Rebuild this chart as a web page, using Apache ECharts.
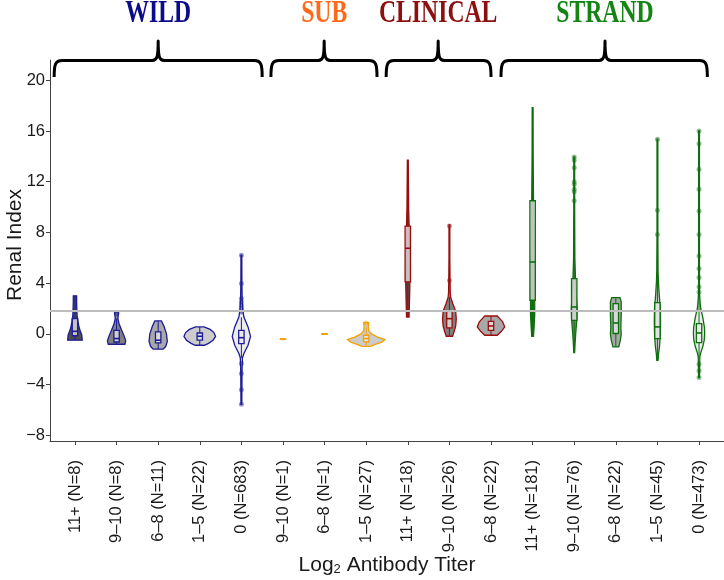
<!DOCTYPE html>
<html><head><meta charset="utf-8">
<script src="https://cdn.jsdelivr.net/npm/echarts@6/dist/echarts.min.js"></script>
<style>html,body{margin:0;padding:0;background:#fff}#c{width:724px;height:580px}</style>
</head><body><div id="c"></div>
<script>
// ---------- DATA ----------
const categories = ['11+ (N=8)','9–10 (N=8)','6–8 (N=11)','1–5 (N=22)','0 (N=683)',
  '9–10 (N=1)','6–8 (N=1)','1–5 (N=27)',
  '11+ (N=18)','9–10 (N=26)','6–8 (N=22)',
  '11+ (N=181)','9–10 (N=76)','6–8 (N=22)','1–5 (N=45)','0 (N=473)'];
const groupNames = ['WILD','SUB','CLINICAL','STRAND'];
const groupOf = [0,0,0,0,0,1,1,1,2,2,2,3,3,3,3,3];
// titer level: 0 = 11+, 1 = 9-10, 2 = 6-8, 3 = 1-5, 4 = 0
const titerLevel = [0,1,2,3,4,1,2,3,0,1,2,0,1,2,3,4];
const yTicks = [-8,-4,0,4,8,12,16,20];
const refLine = 1.85;

// box statistics per category
const boxLow  = [-0.5,-0.82,-1.21,-0.9,-1.9,-0.4,0.0,-0.98, 1.33,-0.19,-0.11,-0.19,-1.47,-1.03,-2.08,-1.9];
const boxQ1   = [-0.15,-0.64,-0.71,-0.5,-0.77,-0.4,0.0,-0.63, 4.1,0.47,0.28, 2.65,1.07,0.03,-0.37,-0.69];
const boxMed  = [0.2,-0.37,-0.5,-0.19,-0.3,-0.4,0.0,-0.37, 6.75,1.2,0.62, 5.67,2.12,0.86,0.55,0.07];
const boxQ3   = [1.2,0.28,0.15,0.07,0.28,-0.4,0.0,-0.11, 8.5,1.78,0.99, 10.5,4.36,2.39,2.47,0.81];
const boxHigh = [3.0,1.2,1.02,0.55,1.3,-0.4,0.0,0.5, 13.7,2.9,1.41, 17.85,9.3,2.86,6.0,3.0];

// violin density profiles: [value, relative width]
const violinWild11  = [[3.0,0.08],[2.5,0.08],[2.0,0.09],[1.5,0.1],[1.0,0.14],[0.5,0.2],[0.2,0.26],[-0.1,0.33],[-0.5,0.35]];
const violinWild9   = [[1.73,0.09],[1.6,0.1],[1.45,0.08],[1.2,0.065],[0.8,0.12],[0.3,0.24],[-0.2,0.37],[-0.55,0.44],[-0.82,0.4]];
const violinWild6   = [[1.02,0.16],[0.6,0.28],[0.0,0.4],[-0.6,0.44],[-1.0,0.36],[-1.21,0.24]];
const violinWild1   = [[0.55,0.2],[0.35,0.5],[0.1,0.68],[-0.2,0.76],[-0.5,0.64],[-0.75,0.42],[-0.9,0.22]];
const violinWild0   = [[6.2,0.02],[4,0.025],[2.6,0.04],[1.9,0.065],[1.33,0.12],[0.55,0.32],[-0.2,0.44],[-0.9,0.32],[-1.55,0.12],[-1.9,0.05],[-3,0.03],[-5.55,0.02]];
const violinSub9    = [];
const violinSub6    = [];
const violinSub1    = [[0.89,0.12],[0.6,0.1],[0.25,0.12],[0.0,0.25],[-0.25,0.55],[-0.45,0.9],[-0.65,0.75],[-0.85,0.4],[-0.98,0.2]];
const violinClin11  = [[13.7,0.02],[10,0.04],[8,0.07],[6,0.09],[4,0.1],[2.5,0.08],[1.33,0.06]];
const violinClin9   = [[8.6,0.02],[6,0.02],[4.2,0.03],[3.3,0.04],[2.9,0.06],[2.4,0.16],[1.8,0.3],[1.2,0.33],[0.6,0.3],[0.15,0.22],[-0.19,0.15]];
const violinClin6   = [[1.41,0.3],[1.2,0.42],[0.95,0.56],[0.55,0.66],[0.2,0.5],[-0.11,0.3]];
const violinStr11   = [[17.85,0.02],[14,0.025],[11,0.04],[8,0.06],[5,0.08],[3,0.1],[1.5,0.1],[0.5,0.07],[-0.19,0.04]];
const violinStr9    = [[13.95,0.02],[10,0.02],[6,0.03],[4.4,0.06],[3,0.1],[2,0.14],[1,0.12],[0,0.07],[-0.8,0.04],[-1.47,0.02]];
const violinStr6    = [[2.86,0.2],[2.5,0.26],[1.5,0.26],[0.5,0.24],[0,0.26],[-0.5,0.22],[-1.03,0.14]];
const violinStr1    = [[15.35,0.02],[8,0.02],[5,0.03],[4,0.05],[3,0.09],[2,0.14],[1,0.15],[0,0.14],[-1,0.1],[-1.6,0.05],[-2.08,0.03]];
const violinStr0    = [[16,0.02],[8,0.02],[3.3,0.02],[2.5,0.05],[2.0,0.08],[1.3,0.18],[0.5,0.26],[0,0.27],[-0.5,0.25],[-1.0,0.18],[-1.5,0.08],[-1.8,0.04],[-2.5,0.03],[-3.45,0.02]];
const violins = [violinWild11,violinWild9,violinWild6,violinWild1,violinWild0,violinSub9,violinSub6,violinSub1,
  violinClin11,violinClin9,violinClin6,violinStr11,violinStr9,violinStr6,violinStr1,violinStr0];

// outliers: [category index, value]
const outliers = [
  [1,1.6],
  [4,6.2],[4,3.97],[4,2.78],[4,2.52],[4,2.26],[4,2.0],[4,1.73],[4,-2.34],[4,-3.13],[4,-4.4],[4,-5.55],
  [7,0.85],
  [9,8.5],[9,4.2],
  [12,13.95],[12,13.7],[12,13.1],[12,12.0],[12,11.8],[12,11.4],[12,11.2],[12,10.5],
  [14,15.35],[14,9.75],[14,7.83],
  [15,16.0],[15,15.0],[15,12.98],[15,11.4],[15,9.7],[15,7.83],[15,6.14],[15,5.15],[15,4.44],[15,3.7],[15,3.3],[15,-2.4],[15,-2.9],[15,-3.45]
];

// ---------- STYLE ----------
const groupLine  = ['#1c1c96','#F5A000','#9a0d0d','#0d6e0d'];
const groupTitle = ['#0c0c8a','#FF6A1A','#8B1010','#148414'];
const shadeFill  = ['#4d4d4d','#808080','#a8a8a8','#cccccc','#ececec'];
// brace extents in axis units (annotation layout)
const braceL = [-0.5, 4.71, 7.48, 10.24];
const braceR = [4.5, 7.26, 10.0, 15.2];
const braceM = [2.0, 5.99, 8.73, 12.74];

const chart = echarts.init(document.getElementById('c'), null, {renderer:'canvas'});
const BOXW = 0.13;
const FONT = '"Liberation Sans", Arial, sans-serif';

function renderViolin(params, api) {
  const i = api.value(0);
  const g = groupOf[i];
  const col = groupLine[g];
  const prof = violins[i];
  const children = [];
  if (prof.length) {
    const right = prof.map(p => api.coord([i + p[1]/2, p[0]]));
    const left = prof.map(p => api.coord([i - p[1]/2, p[0]])).reverse();
    children.push({type:'polygon', shape:{points: right.concat(left)},
      style:{fill: shadeFill[titerLevel[i]], stroke: col, lineWidth: 1.3}});
  }
  const c = api.coord([i, boxHigh[i]]);
  const cq3 = api.coord([i, boxQ3[i]]);
  const cq1 = api.coord([i, boxQ1[i]]);
  const cl = api.coord([i, boxLow[i]]);
  children.push({type:'line', shape:{x1:c[0],y1:c[1],x2:cq3[0],y2:cq3[1]}, style:{stroke:col,lineWidth:1}});
  children.push({type:'line', shape:{x1:cq1[0],y1:cq1[1],x2:cl[0],y2:cl[1]}, style:{stroke:col,lineWidth:1}});
  const tl = api.coord([i - BOXW/2, boxQ3[i]]);
  const br = api.coord([i + BOXW/2, boxQ1[i]]);
  children.push({type:'rect', shape:{x:tl[0], y:tl[1], width:br[0]-tl[0], height:Math.max(br[1]-tl[1],0.5)},
    style:{fill:'rgba(235,235,235,0.75)', stroke:col, lineWidth:1.3}});
  const ml = api.coord([i - BOXW/2, boxMed[i]]);
  const mr = api.coord([i + BOXW/2, boxMed[i]]);
  children.push({type:'line', shape:{x1:ml[0],y1:ml[1],x2:mr[0],y2:mr[1]}, style:{stroke:col,lineWidth:1.6}});
  return {type:'group', children};
}

// braces above the plot, x from the axis scale, y relative to the grid top
function renderBrace(params, api) {
  const g = api.value(0);
  const top = params.coordSys.y;
  const x1 = api.coord([braceL[g], 0])[0];
  const x2 = api.coord([braceR[g], 0])[0];
  const xm = api.coord([braceM[g], 0])[0];
  const yLine = top + 0.5, yEnd = top + 17, yTop = top - 19;
  const d = `M${x1},${yEnd} C${x1},${yLine+4} ${x1+1},${yLine} ${x1+8},${yLine} L${xm-6},${yLine} C${xm-1},${yLine} ${xm},${yLine-4} ${xm},${yTop} C${xm},${yLine-4} ${xm+1},${yLine} ${xm+6},${yLine} L${x2-8},${yLine} C${x2-1},${yLine} ${x2},${yLine+4} ${x2},${yEnd}`;
  return {type:'path', shape:{pathData:d},
    style:{fill:null, stroke:'#000', lineWidth:3, lineJoin:'round'}};
}

const scatterSeries = groupNames.map((name, g) => ({
  type:'scatter', name: name + ' outliers', z: 4,
  data: outliers.filter(o => groupOf[o[0]] === g),
  symbolSize: 5,
  itemStyle:{color: groupLine[g], opacity: 0.45},
  silent:true
}));

const option = {
  animation:false,
  backgroundColor:'#fff',
  grid:{left:50, right:0, top:60, bottom:139, containLabel:false},
  xAxis:{type:'value', min:-0.6, max:15.6,
    axisLine:{show:true, onZero:false, lineStyle:{color:'#444', width:1}},
    axisTick:{show:true, length:4, lineStyle:{color:'#444'}, customValues: categories.map((c,i)=>i)},
    axisLabel:{rotate:90, fontSize:16.5, color:'#1a1a1a', fontFamily:FONT, margin:19,
      customValues: categories.map((c,i)=>i), formatter: v => categories[Math.round(v)] || ''},
    splitLine:{show:false}},
  yAxis:{type:'value', min:-8.45, max:21.6,
    axisLine:{show:true, onZero:false, lineStyle:{color:'#444', width:1}},
    axisTick:{show:true, length:4, lineStyle:{color:'#444'}, customValues: yTicks},
    axisLabel:{fontSize:16.5, color:'#1a1a1a', fontFamily:FONT, margin:5, customValues: yTicks,
      formatter: v => v < 0 ? '−' + Math.abs(v) : String(v)},
    splitLine:{show:false}},
  graphic: [
    ...groupNames.map((name, g) => ({type:'text', x: 75 + braceM[g] * 41.6, y: 14, scaleX:0.74, z:10,
      style:{text:name, fill:groupTitle[g], font:'bold 32px "Liberation Serif", "Times New Roman", serif', textAlign:'center', textVerticalAlign:'middle'}})),
    {type:'text', x:15, y:245, rotation:Math.PI/2, z:10,
      style:{text:'Renal Index', fill:'#1a1a1a', font:'21px ' + FONT, textAlign:'center', textVerticalAlign:'middle'}},
    {type:'text', x:387, y:565, z:10,
      style:{text:'{a|Log}{s|2}{a| Antibody Titer}', textAlign:'center', textVerticalAlign:'middle',
        rich:{a:{fontSize:21, fontFamily:FONT, fill:'#1a1a1a'}, s:{fontSize:13, fontFamily:FONT, fill:'#1a1a1a', padding:[8,0,0,0]}}}}
  ],
  series:[
    {type:'line', data:[], z:1, silent:true,
     markLine:{silent:true, symbol:'none', label:{show:false},
       lineStyle:{color:'#bdbdbd', width:2, type:'solid'}, data:[{yAxis: refLine}]}},
    {type:'custom', z:3, renderItem: renderViolin, silent:true,
     data: categories.map((c,i)=>[i, boxMed[i]]), encode:{x:0, y:1}},
    {type:'custom', z:10, renderItem: renderBrace, silent:true, clip:false,
     data: groupNames.map((n,g)=>[g, 0]), encode:{x:1, y:1}},
    ...scatterSeries
  ]
};
chart.setOption(option);
</script>
</body></html>
